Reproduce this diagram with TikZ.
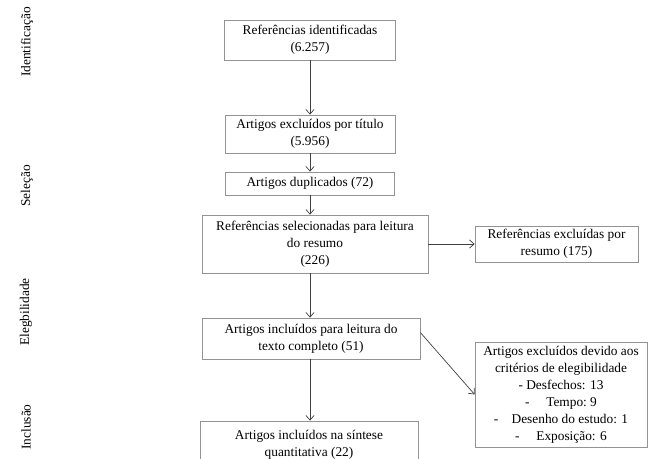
\documentclass[tikz,border=0pt]{standalone}
\usepackage{fontspec}
\setmainfont{Liberation Serif}
\usepackage{xcolor}
\usepackage{tikz}
\usetikzlibrary{
  arrows.meta,
  calc
}

\begin{document}
\begin{tikzpicture}[x=0.03cm,y=-0.03cm,
    caixa/.style={draw=gray!85, line width=0.6pt, align=center, inner sep=1pt,
      font=\fontsize{11.4}{14.5}\selectfont},
    fase/.style={rotate=90, font=\fontsize{11.4}{13}\selectfont},
    seta/.style={draw=black!75, line width=0.6pt, -{Straight Barb[length=4pt,width=7pt]}}]
  \clip (0,0) rectangle (657,459);

  % Phase labels on the left
  \node[fase] (lbl1) at (27,42) {Identificação};
  \node[fase] (lbl2) at (27,186) {Seleção};
  \node[fase] (lbl3) at (26,312) {Elegbilidade};
  \node[fase] (lbl4) at (26,427) {Inclusão};

  % Main column
  \node[caixa, minimum width=5.13cm, minimum height=1.2cm] (ref) at (310,40)
    {Referências identificadas\\(6.257)};
  \node[caixa, minimum width=5.1cm, minimum height=1.14cm] (tit) at (310,134)
    {Artigos excluídos por título\\(5.956)};
  \node[caixa, minimum width=5.07cm, minimum height=0.69cm] (dup) at (310,183.5)
    {Artigos duplicados (72)};
  \node[caixa, minimum width=6.78cm, minimum height=1.74cm] (sel) at (315,244)
    {Referências selecionadas para leitura\\do resumo\\(226)};
  \node[caixa, minimum width=6.54cm, minimum height=1.23cm] (txt) at (311,338.5)
    {Artigos incluídos para leitura do\\texto completo (51)};
  \node[caixa, minimum width=6.54cm, minimum height=1.44cm] (sin) at (309,445)
    {Artigos incluídos na síntese\\quantitativa (22)};

  % Excluded boxes on the right
  \node[caixa, minimum width=4.89cm, minimum height=1.08cm] (exr) at (556.5,244)
    {Referências excluídas por\\resumo (175)};
  \node[caixa, minimum width=5.16cm, minimum height=3.15cm] (exe) at (561,394.5)
    {Artigos excluídos devido aos\\critérios de elegibilidade\\- Desfechos: 13\\
     -\quad\ Tempo:\ 9\\-\quad Desenho do estudo: 1\\-\quad\ Exposição: 6};

  % Arrows
  \draw[seta] (ref) -- (tit);
  \draw[seta] (tit) -- (dup);
  \draw[seta] (dup.south) -- (dup.south |- sel.north);
  \draw[seta] (sel.south -| dup.south) -- (dup.south |- txt.north);
  \draw[seta] (txt.south -| dup.south) -- (dup.south |- sin.north);
  \draw[seta] (sel.east) -- (sel.east -| exr.west);
  \draw[seta] ($(txt.east)+(0,-6)$) -- (exe.west);
\end{tikzpicture}
\end{document}
